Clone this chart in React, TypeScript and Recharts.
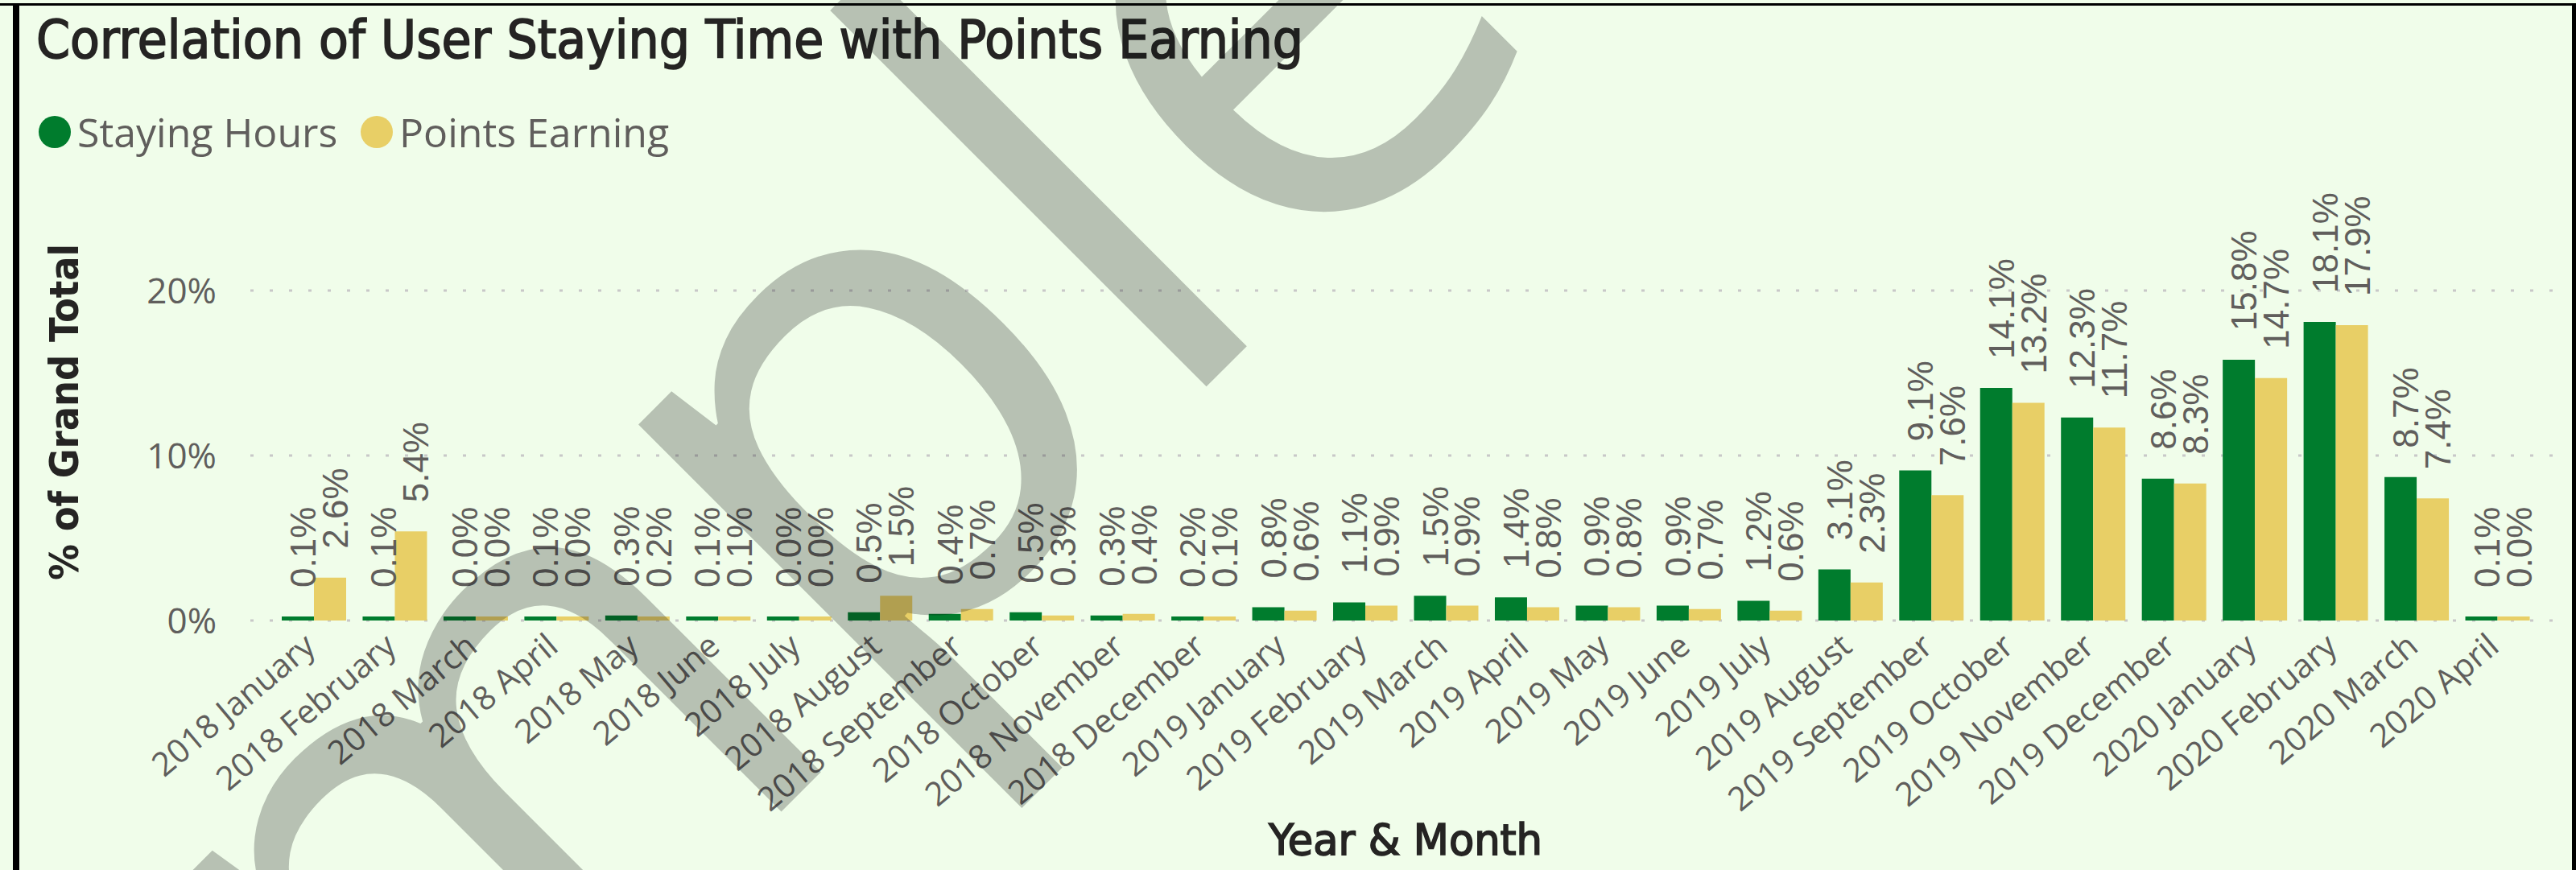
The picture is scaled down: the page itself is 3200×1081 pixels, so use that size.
import React from "react";
import { BarChart, Bar, XAxis, YAxis, CartesianGrid, LabelList } from "recharts";

const months = [
  "2018 January", "2018 February", "2018 March", "2018 April", "2018 May", "2018 June",
  "2018 July", "2018 August", "2018 September", "2018 October", "2018 November", "2018 December",
  "2019 January", "2019 February", "2019 March", "2019 April", "2019 May", "2019 June",
  "2019 July", "2019 August", "2019 September", "2019 October", "2019 November", "2019 December",
  "2020 January", "2020 February", "2020 March", "2020 April",
];

// % of grand total
const stayingHours = [
  0.1, 0.1, 0.0, 0.1, 0.3, 0.1, 0.0, 0.5, 0.4, 0.5, 0.3, 0.2,
  0.8, 1.1, 1.5, 1.4, 0.9, 0.9, 1.2, 3.1, 9.1, 14.1, 12.3, 8.6,
  15.8, 18.1, 8.7, 0.1,
];
const pointsEarning = [
  2.6, 5.4, 0.0, 0.0, 0.2, 0.1, 0.0, 1.5, 0.7, 0.3, 0.4, 0.1,
  0.6, 0.9, 0.9, 0.8, 0.8, 0.7, 0.6, 2.3, 7.6, 13.2, 11.7, 8.3,
  14.7, 17.9, 7.4, 0.0,
];
const yTicks = [0, 10, 20];

const data = months.map((month, i) => ({
  month,
  staying: stayingHours[i],
  points: pointsEarning[i],
}));

const GREEN = "#007C2D";
const YELLOW = "#E8CF66";
const BG = "#F0FDEA";
const GREY = "#605E5C";
const DARK = "#252423";
const COND = "'DejaVu Sans Condensed', 'DejaVu Sans', sans-serif";

function MonthTick(props: any) {
  const { x, y, payload } = props;
  const ax = x + 4;
  const ay = y + 36;
  return (
    <text
      x={ax}
      y={ay}
      textAnchor="end"
      transform={`rotate(-40 ${ax} ${ay})`}
      fill={GREY}
      fontSize={41}
      fontFamily="'Open Sans', sans-serif"
    >
      {payload.value}
    </text>
  );
}

function ValueLabel(props: any) {
  const { x, y, width, value } = props;
  const cx = x + width / 2;
  const ly = y - 36;
  return (
    <text
      x={cx}
      y={ly}
      dy="0.5em"
      transform={`rotate(-90 ${cx} ${ly})`}
      fill={GREY}
      fontSize={44}
      fontFamily="'Liberation Sans Narrow', 'Arial Narrow', sans-serif"
    >
      {`${Number(value).toFixed(1)}%`}
    </text>
  );
}

export default function App() {
  return (
    <div style={{ position: "relative", width: 3200, height: 1081, background: BG, overflow: "hidden" }}>
      <style>{"body{margin:0}"}</style>

      <div style={{ position: "absolute", left: 0, top: 0 }}>
        <BarChart
          width={3200}
          height={1081}
          data={data}
          margin={{ top: 258.5, right: 25, bottom: 10, left: 211 }}
          barGap={0}
          barSize={40}
        >
          <CartesianGrid
            vertical={false}
            horizontalValues={yTicks}
            stroke="#C8C8C8"
            strokeWidth={3}
            strokeDasharray="4 20"
          />
          <XAxis
            dataKey="month"
            interval={0}
            axisLine={false}
            tickLine={false}
            tickSize={0}
            tickMargin={0}
            height={300}
            padding={{ left: 29, right: 22 }}
            tick={(p: any) => <MonthTick {...p} />}
          />
          <YAxis
            width={100}
            domain={[0, 25]}
            ticks={yTicks}
            axisLine={false}
            tickLine={false}
            tickSize={0}
            tickMargin={42}
            tickFormatter={(v: number) => `${v}%`}
            tick={{ fill: GREY, fontSize: 44, fontFamily: "'Open Sans', sans-serif" }}
          />
          <Bar dataKey="staying" fill={GREEN} minPointSize={5} isAnimationActive={false}>
            <LabelList dataKey="staying" content={(p: any) => <ValueLabel {...p} />} />
          </Bar>
          <Bar dataKey="points" fill={YELLOW} minPointSize={5} isAnimationActive={false}>
            <LabelList dataKey="points" content={(p: any) => <ValueLabel {...p} />} />
          </Bar>
        </BarChart>
      </div>

      <svg
        width={3200}
        height={1081}
        style={{ position: "absolute", left: 0, top: 0, pointerEvents: "none" }}
      >
        {/* frame */}
        <rect x={0} y={4} width={3200} height={3} fill="#000" />
        <rect x={16} y={4} width={8} height={1077} fill="#000" />
        <rect x={3195} y={4} width={5} height={1077} fill="#000" />

        <text
          x={45}
          y={72}
          fontSize={66}
          fontFamily={COND}
          fill={DARK}
          stroke={DARK}
          strokeWidth={1.6}
          textLength={1574}
          lengthAdjust="spacingAndGlyphs"
        >
          Correlation of User Staying Time with Points Earning
        </text>

        <circle cx={68} cy={164} r={20} fill={GREEN} />
        <text x={96} y={183} fontSize={50} fontFamily="'Open Sans', sans-serif" fill={GREY}>
          Staying Hours
        </text>
        <circle cx={468} cy={164} r={20} fill={YELLOW} />
        <text x={496} y={183} fontSize={50} fontFamily="'Open Sans', sans-serif" fill={GREY}>
          Points Earning
        </text>

        <text
          x={97}
          y={512}
          textAnchor="middle"
          transform="rotate(-90 97 512)"
          fontSize={50}
          fontWeight="bold"
          fontFamily={COND}
          fill={DARK}
          textLength={418}
          lengthAdjust="spacingAndGlyphs"
        >
          % of Grand Total
        </text>
        <text
          x={1746}
          y={1062}
          textAnchor="middle"
          fontSize={54}
          fontFamily={COND}
          fill={DARK}
          stroke={DARK}
          strokeWidth={1.6}
          textLength={340}
          lengthAdjust="spacingAndGlyphs"
        >
          Year &amp; Month
        </text>

        {/* watermark */}
        <text
          x={-179}
          y={2158}
          transform="rotate(-45 -179 2158)"
          fontSize={870}
          fontFamily="'Open Sans', sans-serif"
          fill="#0B1011"
          fillOpacity={0.25}
        >
          Sample
        </text>
      </svg>
    </div>
  );
}
